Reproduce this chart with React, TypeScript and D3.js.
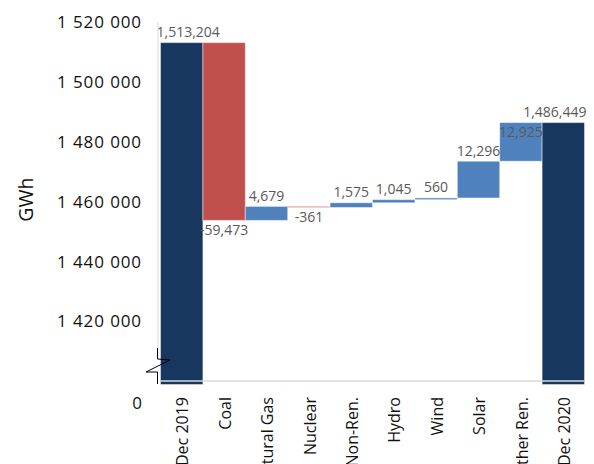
import React from "react";
import * as d3 from "d3";

const categories = ["Dec 2019", "Coal", "Natural Gas", "Nuclear", "Other Non-Ren.", "Hydro", "Wind", "Solar", "Other Ren.", "Dec 2020"];
const values = [1513204, -59473, 4679, -361, 1575, 1045, 560, 12296, 12925, 1486449];
const kinds = ["total", "delta", "delta", "delta", "delta", "delta", "delta", "delta", "delta", "total"];
const yTicks = [1420000, 1440000, 1460000, 1480000, 1500000, 1520000];
const zeroLabel = "0";

const W = 594, H = 464;
const plotLeft = 160.5, plotRight = 584.5;
const yTop = 22.3, yBase = 381;
const FONT = "'Open Sans', 'Noto Sans', sans-serif";

const navy = "#17375E";
const red = "#C0504D";
const blue = "#4F81BD";
const lightRed = "#E59A98";

export default function App() {
  const x = d3.scaleBand<string>().domain(categories).range([plotLeft, plotRight]).padding(0);
  const y = d3.scaleLinear().domain([1400000, 1520000]).range([yBase, yTop]);

  let running = 0;
  const segs = values.map((v, i) => {
    if (kinds[i] === "total") {
      running = v;
      return { cat: categories[i], lo: 1400000, hi: v, v, kind: "total" };
    }
    const start = running;
    running = start + v;
    return { cat: categories[i], lo: Math.min(start, running), hi: Math.max(start, running), v, kind: v < 0 ? "neg" : "pos" };
  });

  const fmt = d3.format(",");
  const tickFmt = (v: number) => d3.format(",")(v).replace(/,/g, " ");
  const labelSize = 14;
  const estW = (s: string) => {
    let w = 0;
    for (const c of s) w += c === "," ? 0.26 : c === "-" ? 0.32 : 0.572;
    return w * labelSize;
  };

  const labels = segs.map((s, i) => {
    const cx = x(s.cat)! + x.bandwidth() / 2;
    const txt = fmt(s.v).replace("−", "-");
    const w = estW(txt);
    let lx = cx;
    if (lx + w / 2 > plotRight + 2) lx = plotRight + 2 - w / 2;
    if (lx - w / 2 < plotLeft - 4) lx = plotLeft - 4 + w / 2;
    let ly: number;
    if (s.kind === "neg") ly = y(s.lo) + 14.5;
    else ly = y(s.hi) - 5.5;
    return { lx, ly, txt, w, i };
  });
  for (let i = 0; i < labels.length - 1; i++) {
    const a = labels[i], b = labels[i + 1];
    const overlapX = a.lx + a.w / 2 > b.lx - b.w / 2 && a.lx - a.w / 2 < b.lx + b.w / 2;
    const overlapY = Math.abs(a.ly - b.ly) < 12;
    if (overlapX && overlapY && segs[i].kind === "pos") {
      a.ly = y(segs[i].hi) + 14.5;
    }
  }

  const color = (k: string) => (k === "total" ? navy : k === "neg" ? red : blue);

  return (
    <svg width={W} height={H} style={{ position: "absolute", left: 0, top: 0, background: "#fff" }}>
      <defs>
        <clipPath id="lblclip">
          <rect x={158.5} y={0} width={W - 158.5} height={H} />
        </clipPath>
      </defs>
      <rect x={0} y={0} width={W} height={H} fill="#fff" />

      <line x1={158} x2={158} y1={22} y2={358} stroke="#D9D9D9" strokeWidth={1} />

      {segs.map((s, i) => {
        const bx = x(s.cat)!;
        const top = y(s.hi);
        const bottom = s.kind === "total" ? y(s.lo) + 3.5 : y(s.lo);
        const h = Math.max(bottom - top, 1);
        const isNuc = s.kind === "neg" && Math.abs(s.v) < 1000;
        return (
          <rect
            key={i}
            x={bx}
            y={top}
            width={x.bandwidth()}
            height={h}
            fill={isNuc ? lightRed : color(s.kind)}
            stroke={isNuc ? "none" : "#ffffff"}
            strokeOpacity={0.45}
            strokeWidth={1}
          />
        );
      })}

      <line x1={plotLeft} x2={plotRight} y1={yBase} y2={yBase} stroke="#D9D9D9" strokeWidth={1.6} />

      <path
        d={`M157.5,${y(1400000) - 33} V${y(1400000) - 22} L170,${y(1400000) - 21} L146,${y(1400000) - 9} L157.5,${y(1400000) - 9} V${y(1400000) + 3}`}
        fill="none"
        stroke="#000"
        strokeWidth={1}
      />

      {yTicks.map((t) => (
        <text key={t} x={142} y={y(t)} dy="0.36em" textAnchor="end" fontFamily={FONT} fontSize={17} letterSpacing={0.9} fill="#111">
          {tickFmt(t)}
        </text>
      ))}
      <text x={142} y={yBase + 21.5} dy="0.36em" textAnchor="end" fontFamily={FONT} fontSize={17} fill="#111">
        {zeroLabel}
      </text>

      <text transform={`translate(33,${(yTop + yBase) / 2 - 2}) rotate(-90)`} textAnchor="middle" fontFamily={FONT} fontSize={19.5} fill="#111">
        GWh
      </text>

      {categories.map((c) => {
        const cx = x(c)! + x.bandwidth() / 2 + 1;
        return (
          <text key={c} transform={`translate(${cx},397) rotate(-90)`} dy="0.36em" textAnchor="end" fontFamily={FONT} fontSize={16} fill="#111">
            {c}
          </text>
        );
      })}

      <g clipPath="url(#lblclip)">
        {labels.map((l) => (
          <text key={l.i} x={l.lx} y={l.ly} textAnchor="middle" fontFamily={FONT} fontSize={labelSize} fill="#595959">
            {l.txt}
          </text>
        ))}
      </g>
    </svg>
  );
}
